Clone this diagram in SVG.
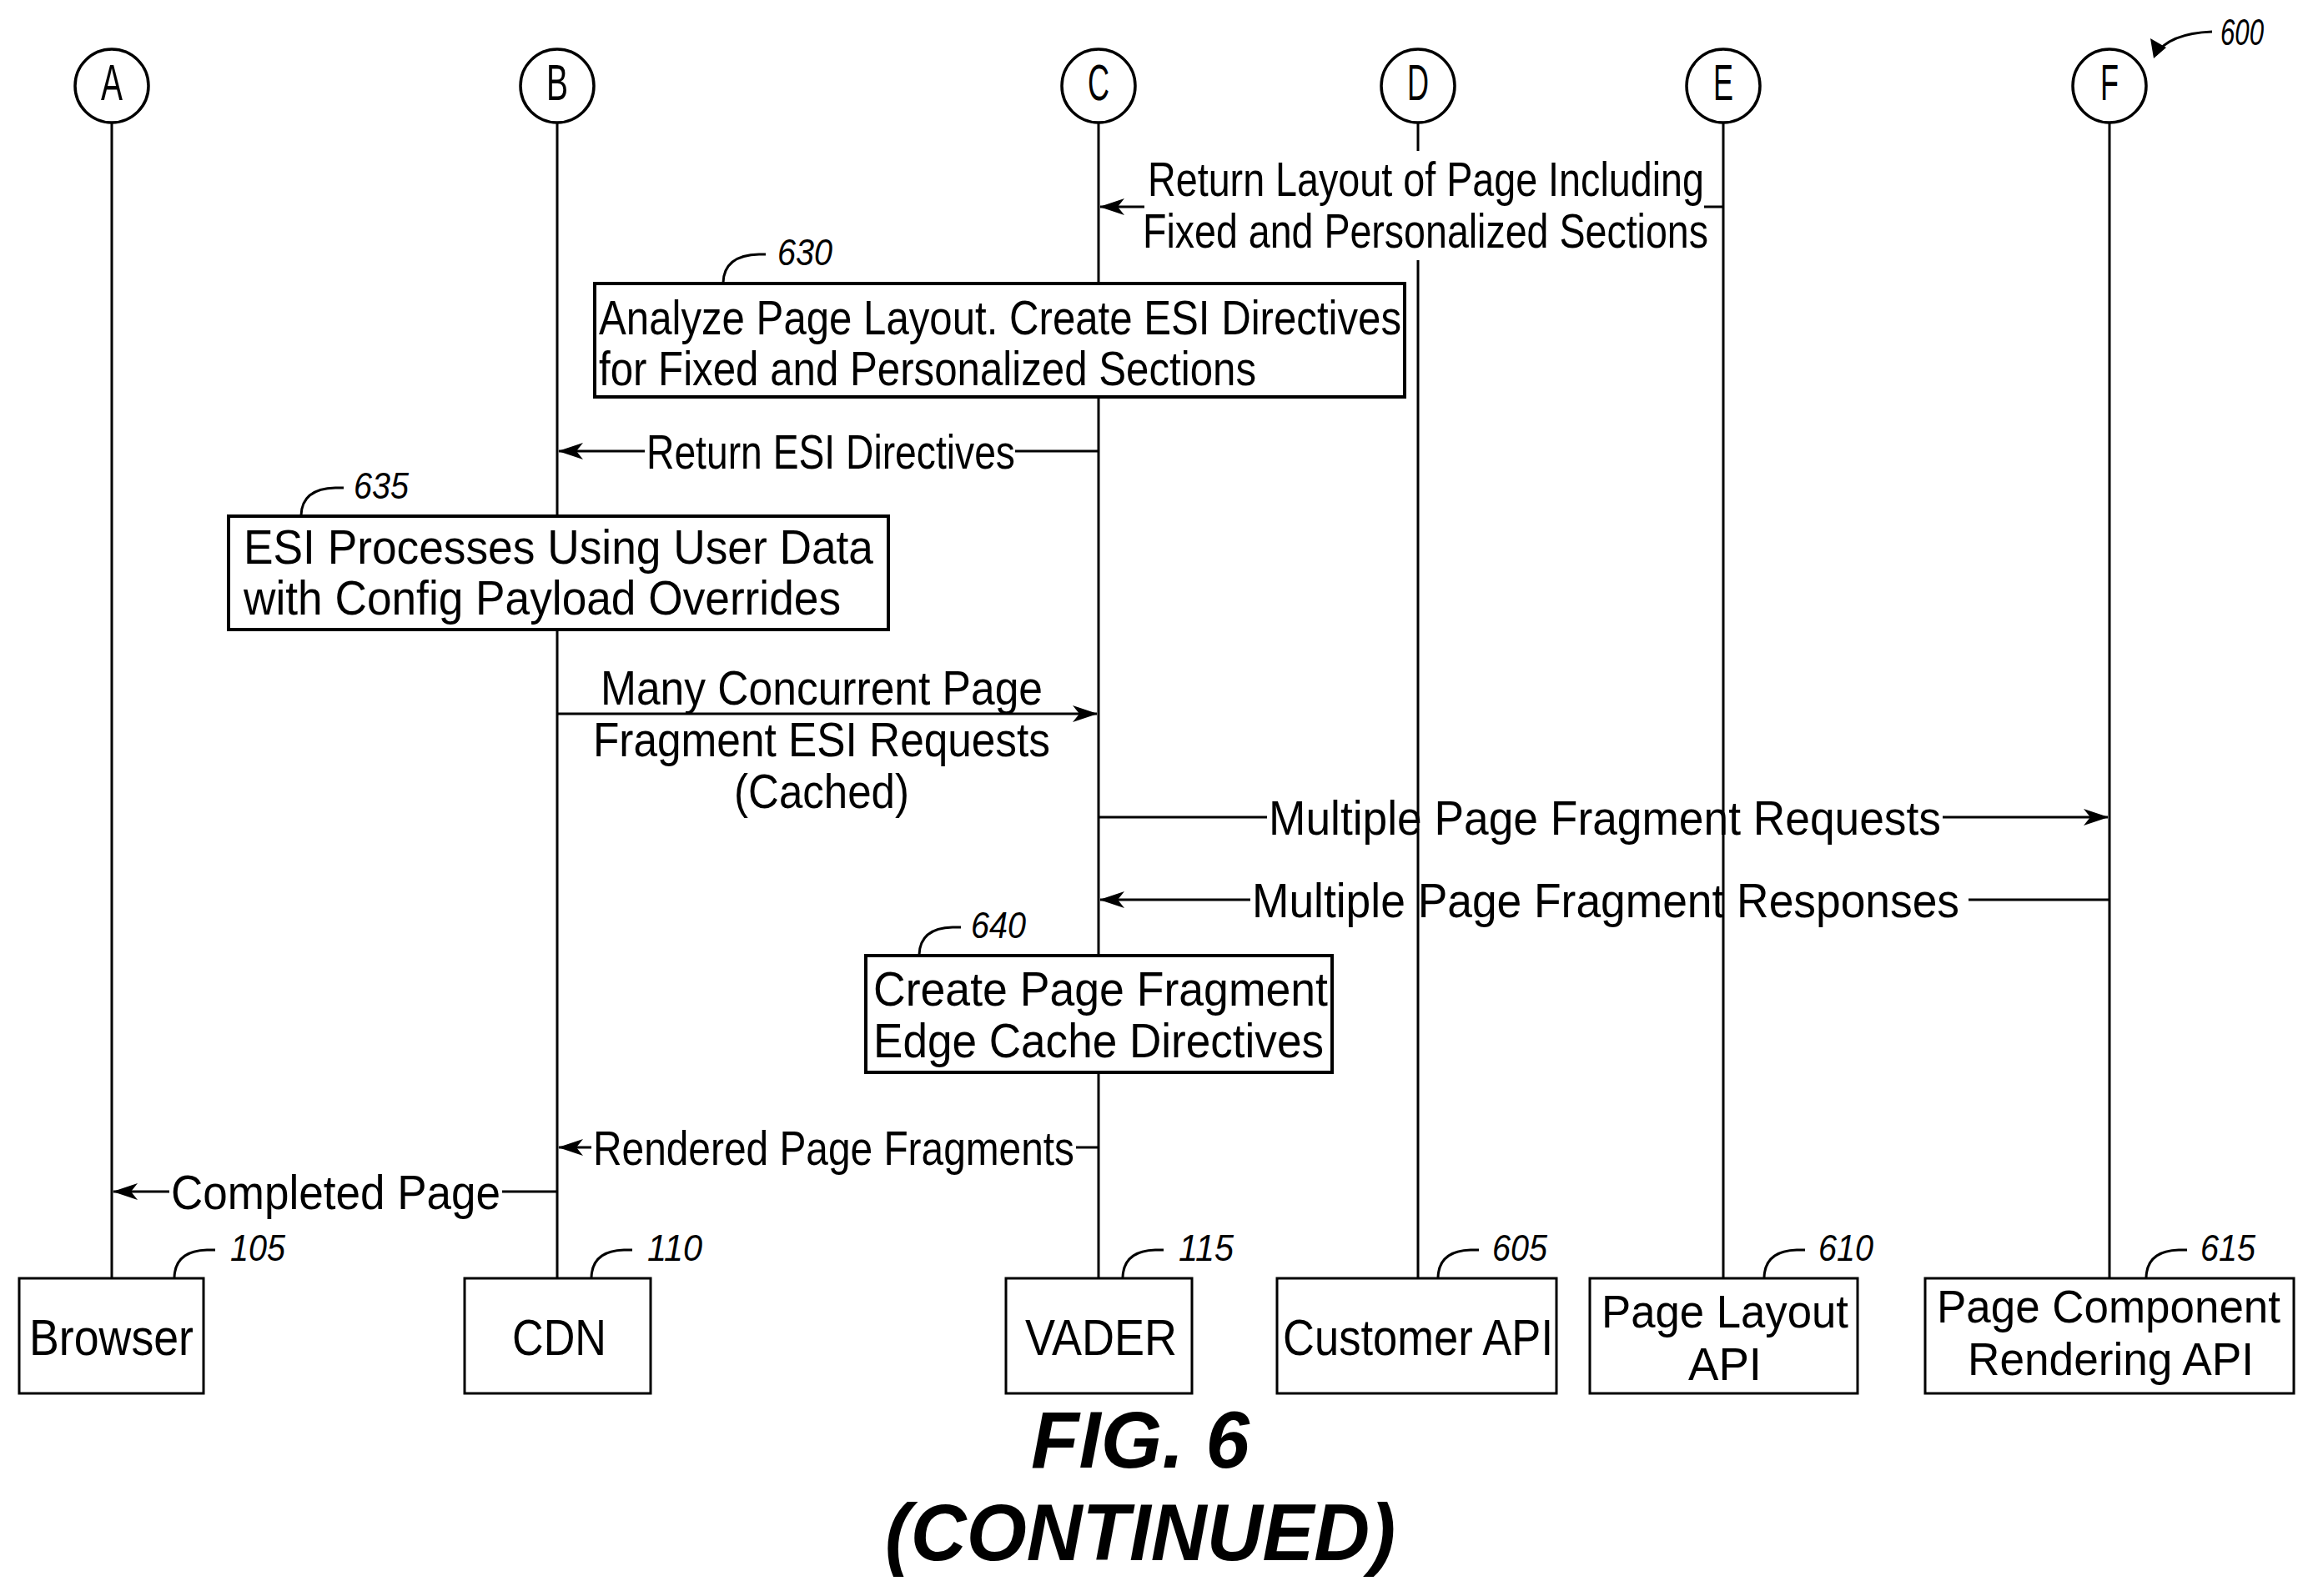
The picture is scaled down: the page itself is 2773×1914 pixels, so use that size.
<svg xmlns="http://www.w3.org/2000/svg" width="2773" height="1914" viewBox="0 0 2773 1914">
<style>
.t{font-family:"Liberation Sans",Arial,sans-serif;font-size:58px;fill:#000}
.b{font-family:"Liberation Sans",Arial,sans-serif;font-size:62px;fill:#000}
.b2{font-family:"Liberation Sans",Arial,sans-serif;font-size:56px;fill:#000}
.r{font-family:"Liberation Sans",Arial,sans-serif;font-size:44px;font-style:italic;fill:#000}
.ln{stroke:#000;stroke-width:3;fill:none}
.bx{stroke:#000;stroke-width:3;fill:#fff}
.bx2{stroke:#000;stroke-width:4;fill:#fff}
.c{stroke:#000;stroke-width:3.5;fill:#fff}
.fig{font-family:"Liberation Sans",Arial,sans-serif;font-size:96px;font-weight:bold;font-style:italic;fill:#000}
</style>
<defs>
<marker id="ah" viewBox="0 0 30 20" refX="29" refY="10" markerWidth="30" markerHeight="20" markerUnits="userSpaceOnUse" orient="auto">
<path d="M0,0 L30,10 L0,20 L8,10 Z" fill="#000"/>
</marker>
</defs>
<rect width="2773" height="1914" fill="#fff"/>

<g id="lifelines">
<line class="ln" x1="134" y1="147" x2="134" y2="1533"/>
<line class="ln" x1="668" y1="147" x2="668" y2="1533"/>
<line class="ln" x1="1317" y1="147" x2="1317" y2="1533"/>
<line class="ln" x1="1700" y1="147" x2="1700" y2="181"/>
<line class="ln" x1="1700" y1="312" x2="1700" y2="1533"/>
<line class="ln" x1="2066" y1="147" x2="2066" y2="1533"/>
<line class="ln" x1="2529" y1="147" x2="2529" y2="1533"/>
</g>

<g id="heads">
<g id="hA"><circle class="c" cx="134" cy="103" r="44"/><text class="b" x="134" y="120" font-size="46" text-anchor="middle" textLength="26" lengthAdjust="spacingAndGlyphs">A</text></g>
<g id="hB"><circle class="c" cx="668" cy="103" r="44"/><text class="b" x="668" y="120" font-size="46" text-anchor="middle" textLength="26" lengthAdjust="spacingAndGlyphs">B</text></g>
<g id="hC"><circle class="c" cx="1317" cy="103" r="44"/><text class="b" x="1317" y="120" font-size="46" text-anchor="middle" textLength="26" lengthAdjust="spacingAndGlyphs">C</text></g>
<g id="hD"><circle class="c" cx="1700" cy="103" r="44"/><text class="b" x="1700" y="120" font-size="46" text-anchor="middle" textLength="26" lengthAdjust="spacingAndGlyphs">D</text></g>
<g id="hE"><circle class="c" cx="2066" cy="103" r="44"/><text class="b" x="2066" y="120" font-size="46" text-anchor="middle" textLength="24" lengthAdjust="spacingAndGlyphs">E</text></g>
<g id="hF"><circle class="c" cx="2529" cy="103" r="44"/><text class="b" x="2529" y="120" font-size="46" text-anchor="middle" textLength="22" lengthAdjust="spacingAndGlyphs">F</text></g>
</g>

<g id="ref600">
<path class="ln" d="M2584,66 Q2600,40 2652,38" />
<path d="M2582,70 L2578,46 L2597,57 Z" fill="#000"/>
<text class="r" x="2662" y="54" textLength="52" lengthAdjust="spacingAndGlyphs">600</text>
</g>

<g id="connectors">
<line class="ln" x1="2066" y1="248" x2="2043" y2="248"/>
<line class="ln" x1="1372" y1="248" x2="1319" y2="248" marker-end="url(#ah)"/>
<line class="ln" x1="1217" y1="541" x2="1317" y2="541"/>
<line class="ln" x1="773" y1="541" x2="670" y2="541" marker-end="url(#ah)"/>
<line class="ln" x1="668" y1="856" x2="1315" y2="856" marker-end="url(#ah)"/>
<line class="ln" x1="1317" y1="980" x2="1519" y2="980"/>
<line class="ln" x1="2329" y1="980" x2="2527" y2="980" marker-end="url(#ah)"/>
<line class="ln" x1="2529" y1="1079" x2="2360" y2="1079"/>
<line class="ln" x1="1499" y1="1079" x2="1319" y2="1079" marker-end="url(#ah)"/>
<line class="ln" x1="1317" y1="1376" x2="1290" y2="1376"/>
<line class="ln" x1="709" y1="1376" x2="670" y2="1376" marker-end="url(#ah)"/>
<line class="ln" x1="668" y1="1429" x2="602" y2="1429"/>
<line class="ln" x1="203" y1="1429" x2="136" y2="1429" marker-end="url(#ah)"/>
</g>

<g id="labels">
<text class="t" x="1376" y="235" textLength="667" lengthAdjust="spacingAndGlyphs">Return Layout of Page Including</text>
<text class="t" x="1370" y="297" textLength="678" lengthAdjust="spacingAndGlyphs">Fixed and Personalized Sections</text>
<text class="t" x="775" y="562" textLength="442" lengthAdjust="spacingAndGlyphs">Return ESI Directives</text>
<text class="t" x="985" y="845" text-anchor="middle" textLength="530" lengthAdjust="spacingAndGlyphs">Many Concurrent Page</text>
<text class="t" x="985" y="907" text-anchor="middle" textLength="548" lengthAdjust="spacingAndGlyphs">Fragment ESI Requests</text>
<text class="t" x="985" y="969" text-anchor="middle" textLength="210" lengthAdjust="spacingAndGlyphs">(Cached)</text>
<text class="t" x="1521" y="1001" textLength="806" lengthAdjust="spacingAndGlyphs">Multiple Page Fragment Requests</text>
<text class="t" x="1501" y="1100" textLength="848" lengthAdjust="spacingAndGlyphs">Multiple Page Fragment Responses</text>
<text class="t" x="711" y="1397" textLength="577" lengthAdjust="spacingAndGlyphs">Rendered Page Fragments</text>
<text class="t" x="205" y="1450" textLength="395" lengthAdjust="spacingAndGlyphs">Completed Page</text>
</g>

<g id="n630">
<rect class="bx2" x="713" y="340" width="971" height="136"/>
<text class="t" x="718" y="401" textLength="962" lengthAdjust="spacingAndGlyphs">Analyze Page Layout. Create ESI Directives</text>
<text class="t" x="718" y="462" textLength="788" lengthAdjust="spacingAndGlyphs">for Fixed and Personalized Sections</text>
<path class="ln" d="M867,339 Q868,306 910,305 L918,305"/>
<text class="r" x="932" y="318" textLength="66" lengthAdjust="spacingAndGlyphs">630</text>
</g>

<g id="n635">
<rect class="bx2" x="274" y="619" width="791" height="136"/>
<text class="t" x="292" y="676" textLength="755" lengthAdjust="spacingAndGlyphs">ESI Processes Using User Data</text>
<text class="t" x="292" y="737" textLength="716" lengthAdjust="spacingAndGlyphs">with Config Payload Overrides</text>
<path class="ln" d="M361,618 Q362,586 402,585 L412,585"/>
<text class="r" x="424" y="598" textLength="66" lengthAdjust="spacingAndGlyphs">635</text>
</g>

<g id="n640">
<rect class="bx2" x="1038" y="1146" width="559" height="140"/>
<text class="t" x="1047" y="1206" textLength="545" lengthAdjust="spacingAndGlyphs">Create Page Fragment</text>
<text class="t" x="1047" y="1268" textLength="540" lengthAdjust="spacingAndGlyphs">Edge Cache Directives</text>
<path class="ln" d="M1102,1145 Q1103,1113 1142,1112 L1152,1112"/>
<text class="r" x="1164" y="1125" textLength="66" lengthAdjust="spacingAndGlyphs">640</text>
</g>

<g id="n105">
<rect class="bx" x="23" y="1533" width="221" height="138"/>
<text class="b" x="35" y="1625" textLength="197" lengthAdjust="spacingAndGlyphs">Browser</text>
<path class="ln" d="M209,1532 Q210,1500 248,1499 L258,1499"/>
<text class="r" x="276" y="1512" textLength="66" lengthAdjust="spacingAndGlyphs">105</text>
</g>
<g id="n110">
<rect class="bx" x="557" y="1533" width="223" height="138"/>
<text class="b" x="614" y="1625" textLength="113" lengthAdjust="spacingAndGlyphs">CDN</text>
<path class="ln" d="M709,1532 Q710,1500 748,1499 L758,1499"/>
<text class="r" x="776" y="1512" textLength="66" lengthAdjust="spacingAndGlyphs">110</text>
</g>
<g id="n115">
<rect class="bx" x="1206" y="1533" width="223" height="138"/>
<text class="b" x="1229" y="1625" textLength="182" lengthAdjust="spacingAndGlyphs">VADER</text>
<path class="ln" d="M1346,1532 Q1347,1500 1385,1499 L1395,1499"/>
<text class="r" x="1413" y="1512" textLength="66" lengthAdjust="spacingAndGlyphs">115</text>
</g>
<g id="n605">
<rect class="bx" x="1531" y="1533" width="335" height="138"/>
<text class="b" x="1538" y="1625" textLength="324" lengthAdjust="spacingAndGlyphs">Customer API</text>
<path class="ln" d="M1724,1532 Q1725,1500 1763,1499 L1773,1499"/>
<text class="r" x="1789" y="1512" textLength="66" lengthAdjust="spacingAndGlyphs">605</text>
</g>
<g id="n610">
<rect class="bx" x="1906" y="1533" width="321" height="138"/>
<text class="b2" x="1920" y="1592" textLength="296" lengthAdjust="spacingAndGlyphs">Page Layout</text>
<text class="b2" x="2068" y="1655" text-anchor="middle" textLength="88" lengthAdjust="spacingAndGlyphs">API</text>
<path class="ln" d="M2115,1532 Q2116,1500 2154,1499 L2164,1499"/>
<text class="r" x="2180" y="1512" textLength="66" lengthAdjust="spacingAndGlyphs">610</text>
</g>
<g id="n615">
<rect class="bx" x="2308" y="1533" width="442" height="138"/>
<text class="b2" x="2322" y="1586" textLength="412" lengthAdjust="spacingAndGlyphs">Page Component</text>
<text class="b2" x="2359" y="1649" textLength="343" lengthAdjust="spacingAndGlyphs">Rendering API</text>
<path class="ln" d="M2573,1532 Q2574,1500 2612,1499 L2622,1499"/>
<text class="r" x="2638" y="1512" textLength="66" lengthAdjust="spacingAndGlyphs">615</text>
</g>

<g id="caption">
<text class="fig" x="1367" y="1760" text-anchor="middle" textLength="262" lengthAdjust="spacingAndGlyphs">FIG. 6</text>
<text class="fig" x="1367" y="1871" text-anchor="middle" textLength="612" lengthAdjust="spacingAndGlyphs">(CONTINUED)</text>
</g>
</svg>
